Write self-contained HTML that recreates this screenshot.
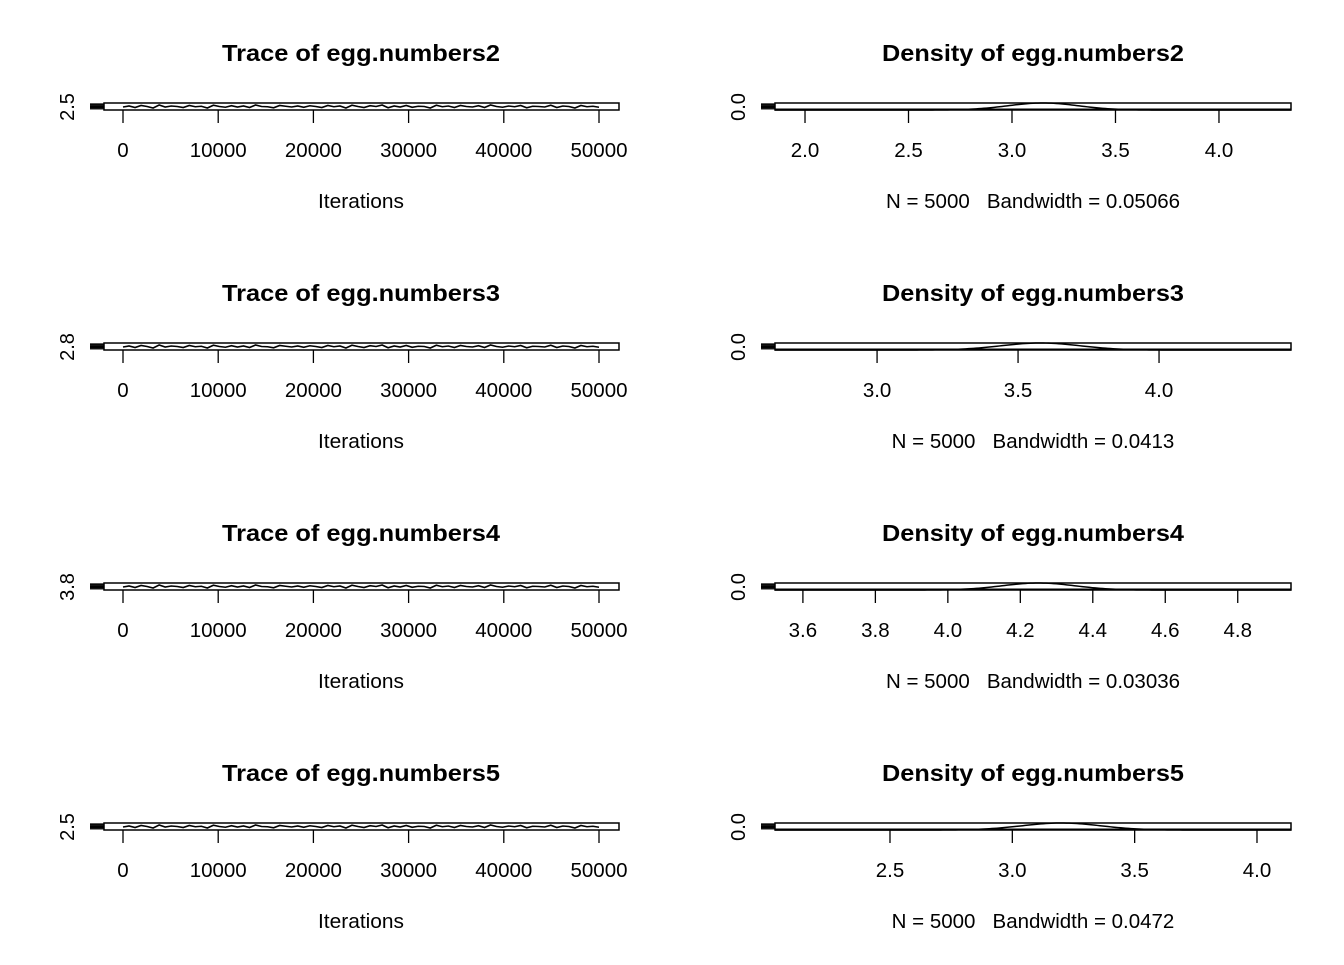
<!DOCTYPE html>
<html><head><meta charset="utf-8"><style>
html,body{margin:0;padding:0;background:#fff}
svg text{font-family:"Liberation Sans",Arial,sans-serif;fill:#000;white-space:pre}
</style></head><body>
<svg id="c" width="1344" height="960" xmlns="http://www.w3.org/2000/svg"></svg>
<script>
const names=["egg.numbers2","egg.numbers3","egg.numbers4","egg.numbers5"];
const yLabels=["2.5","2.8","3.8","2.5"];
const bandwidths=["0.05066","0.0413","0.03036","0.0472"];
const traceTicks=[0,10000,20000,30000,40000,50000];
const densTicks=[[2.0,2.5,3.0,3.5,4.0],[3.0,3.5,4.0],[3.6,3.8,4.0,4.2,4.4,4.6,4.8],[2.5,3.0,3.5,4.0]];
const densTickLabels=[["2.0","2.5","3.0","3.5","4.0"],["3.0","3.5","4.0"],["3.6","3.8","4.0","4.2","4.4","4.6","4.8"],["2.5","3.0","3.5","4.0"]];
const densRanges=[[1.855,4.348],[2.638,4.468],[3.523,4.947],[2.030,4.139]];
const densCenters=[3.15,3.58,4.25,3.2];
const densWidths=[0.17,0.14,0.1,0.16];
const traceVals=[0.4,0.6,0.3,0.7,0.5,0.2,0.8,0.4,0.6,0.5,0.3,0.7,0.45,0.55,0.2,0.75,0.5,0.35,0.65,0.4,0.6,0.3,0.8,0.5,0.45,0.25,0.7,0.55,0.4,0.6,0.35,0.65,0.5,0.3,0.7,0.45,0.6,0.2,0.75,0.5,0.3,0.65,0.5,0.8,0.25,0.6,0.4,0.7,0.35,0.55,0.5,0.2,0.75,0.45,0.6,0.3,0.7,0.5,0.4,0.65,0.3,0.8,0.5,0.35,0.6,0.45,0.7,0.25,0.55,0.5,0.4,0.75,0.3,0.6,0.5,0.2,0.7,0.45,0.55,0.35];
const svg=document.getElementById('c');
const NS='http://www.w3.org/2000/svg';
function mk(tag,attrs,parent){const e=document.createElementNS(NS,tag);for(const k in attrs)e.setAttribute(k,attrs[k]);(parent||svg).appendChild(e);return e;}
function txt(s,x,y,size,weight,parent,rot,len){const t=mk('text',{x:x,y:y,'font-size':size,'text-anchor':'middle','font-weight':weight||'normal'},parent);if(rot)t.setAttribute('transform','rotate(-90 '+x+' '+y+')');if(len){t.setAttribute('textLength',len);t.setAttribute('lengthAdjust','spacingAndGlyphs');}t.textContent=s;return t;}
for(let r=0;r<4;r++){
  const dy=r*240, top=103+dy, bot=110+dy;
  const g=mk('g',{});
  
  
  const tx=v=>123+(v/50000)*476;
  txt('Trace of '+names[r],361,61+dy,23,'bold',g,false,278);
  let pts=traceVals.map((v,i)=>tx(i*50000/(traceVals.length-1))+','+(bot-1-v*(bot-top-2))).join(' ');
  const pl=mk('polyline',{points:pts,fill:'none',stroke:'#000','stroke-width':1.6},g);
  
  mk('rect',{x:104,y:top,width:515,height:7,fill:'none',stroke:'#000','stroke-width':1.5},g);
  for(let k=0;k<5;k++)mk('line',{x1:90,x2:104,y1:top+1+k*1.2,y2:top+1+k*1.2,stroke:'#000','stroke-width':1.3},g);
  txt(yLabels[r],74,107+dy,20,'normal',g,true);
  traceTicks.forEach(v=>{mk('line',{x1:tx(v),x2:tx(v),y1:bot,y2:bot+13,stroke:'#000','stroke-width':1.3},g);
    txt(String(v),tx(v),157+dy,20.5,'normal',g);});
  txt('Iterations',361,208+dy,20.5,'normal',g,false,86);
  const d=mk('g',{});
  
  
  const [lo,hi]=densRanges[r];
  const dx=v=>775+(v-lo)/(hi-lo)*516;
  txt('Density of '+names[r],1033,61+dy,23,'bold',d,false,302);
  let dp=[];
  for(let i=0;i<=200;i++){const v=lo+(hi-lo)*i/200;const z=(v-densCenters[r])/densWidths[r];dp.push(dx(v)+','+(bot-Math.exp(-z*z/2)*(bot-top)));}
  const dl=mk('polyline',{points:dp.join(' '),fill:'none',stroke:'#000','stroke-width':1.5},d);
  
  mk('line',{x1:775,x2:1291,y1:bot-0.5,y2:bot-0.5,stroke:'#000','stroke-width':2},d);
  mk('rect',{x:775,y:top,width:516,height:7,fill:'none',stroke:'#000','stroke-width':1.5},d);
  for(let k=0;k<5;k++)mk('line',{x1:761,x2:775,y1:top+1+k*1.2,y2:top+1+k*1.2,stroke:'#000','stroke-width':1.3},d);
  txt('0.0',745,107+dy,20,'normal',d,true);
  densTicks[r].forEach((v,i)=>{mk('line',{x1:dx(v),x2:dx(v),y1:bot,y2:bot+13,stroke:'#000','stroke-width':1.3},d);
    txt(densTickLabels[r][i],dx(v),157+dy,20.5,'normal',d);});
  const t=txt('N = 5000   Bandwidth = '+bandwidths[r],1033,208+dy,20.5,'normal',d);
  
}
</script>
</body></html>
